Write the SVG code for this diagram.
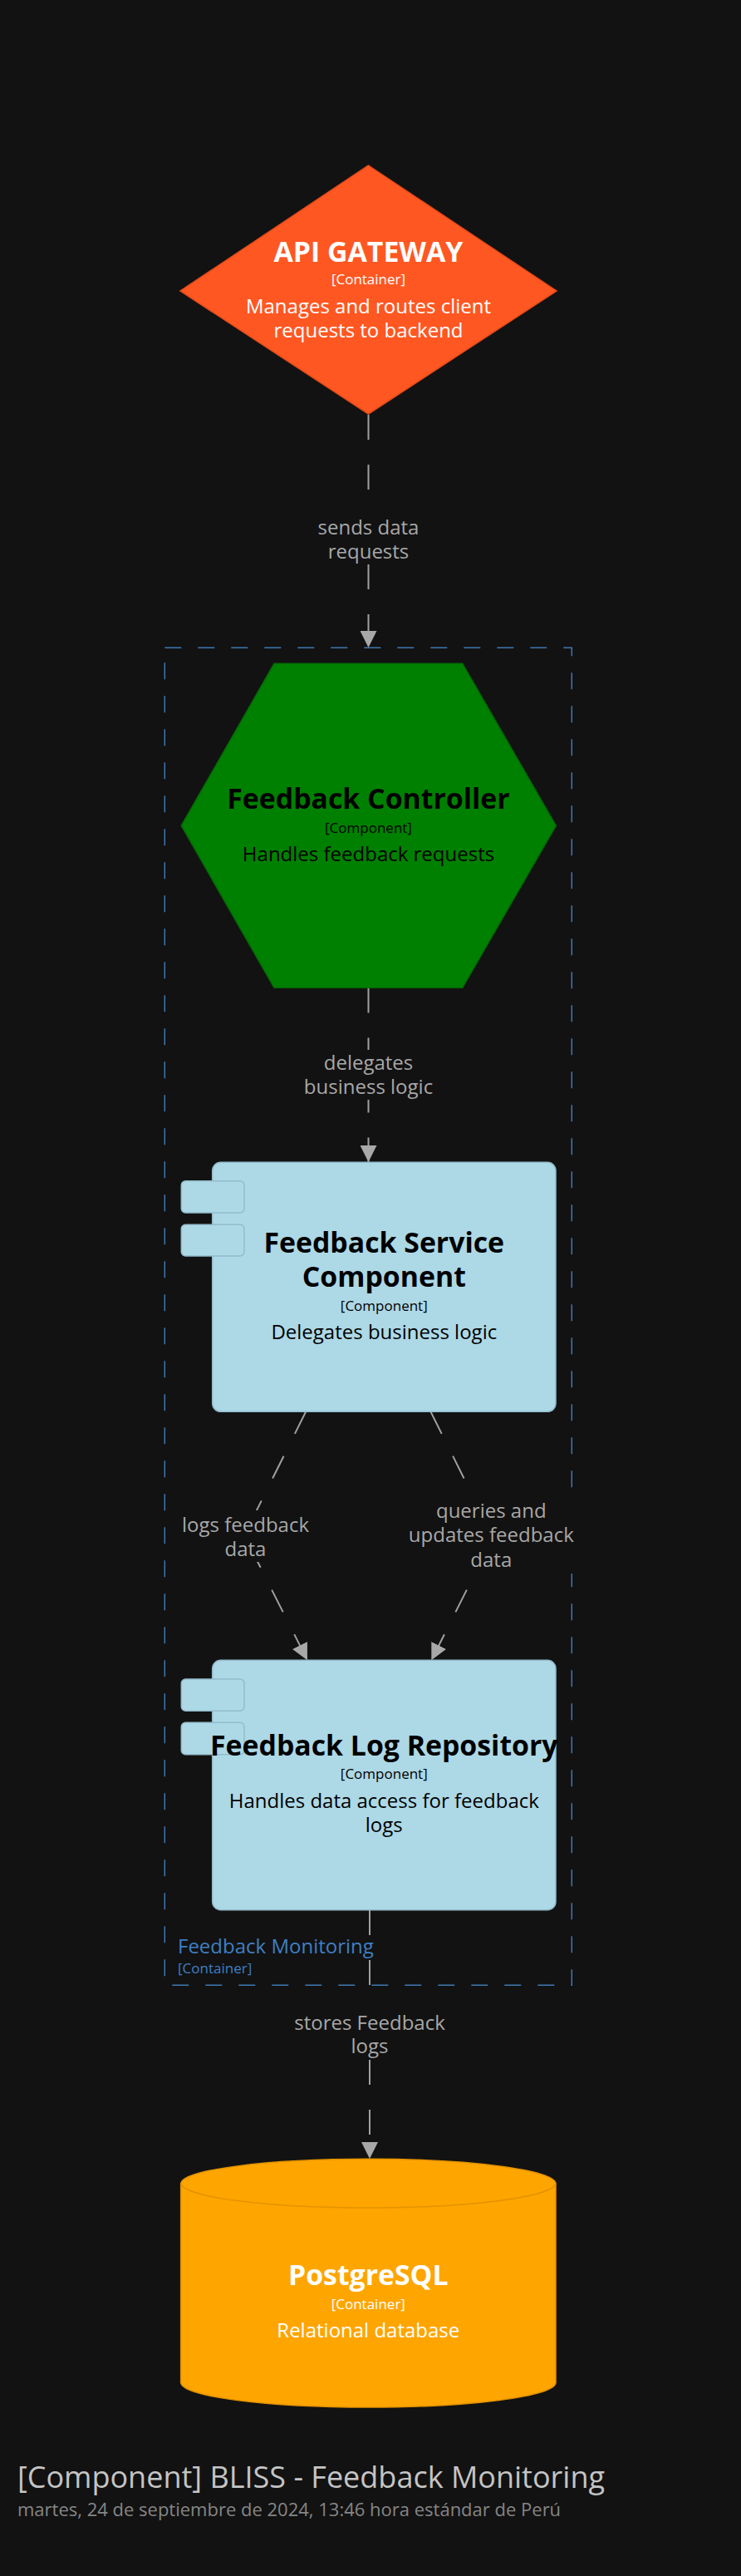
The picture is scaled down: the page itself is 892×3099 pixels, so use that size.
<svg xmlns="http://www.w3.org/2000/svg" width="892" height="3099" viewBox="0 0 892 3099">
<defs>
<style>
text{font-family:"Open Sans","Noto Sans","DejaVu Sans",sans-serif;text-anchor:middle}
.t{font-weight:bold;font-size:33.8px}
.s{font-size:17px}
.d{font-size:24px}
.w{fill:#ffffff}
.k{fill:#000000}
.lbl{font-size:24px;fill:#a8a8a8}
.edge{fill:none;stroke:#a0a0a0;stroke-width:2;stroke-dasharray:30 30}
.lbg{fill:#121212}
.comp{fill:#add8e6;stroke:#93bccb;stroke-width:1.5}
</style>
<marker id="arr" viewBox="0 0 20 20" refX="20" refY="10" markerWidth="20" markerHeight="20" markerUnits="userSpaceOnUse" orient="auto">
<path d="M0,0 L20,10 L0,20 Z" fill="#a8a8a8"/>
</marker>
</defs>
<rect x="0" y="0" width="892" height="3099" fill="#121212"/>

<g id="boundary-feedback-monitoring">
<rect x="198.3" y="779.3" width="490" height="1609" fill="none" stroke="#3f78b0" stroke-width="1.5" stroke-dasharray="20 20"/>
<text x="214" y="2350" style="text-anchor:start;font-size:24px;fill:#3f7fc4">Feedback Monitoring</text>
<text x="214" y="2374" style="text-anchor:start;font-size:17px;fill:#3f7fc4">[Container]</text>
</g>

<g id="connectors">
<path class="edge" d="M443.5,499 L443.5,779" marker-end="url(#arr)"/>
<path class="edge" d="M443.5,1188.5 L443.5,1398" marker-end="url(#arr)"/>
<path class="edge" d="M368.3,1698 L294,1847 L370,1997.3" marker-end="url(#arr)"/>
<path class="edge" d="M518.3,1698 L593.8,1849 L519.3,1997.3" marker-end="url(#arr)"/>
<path class="edge" d="M445,2298 L445,2597" marker-end="url(#arr)"/>
<rect class="lbg" x="380" y="619" width="128" height="60"/>
<text class="lbl" x="443.5" y="643.3">sends data</text>
<text class="lbl" x="443.5" y="671.7">requests</text>
<rect class="lbg" x="365" y="1263" width="160" height="60"/>
<text class="lbl" x="443.5" y="1287">delegates</text>
<text class="lbl" x="443.5" y="1316">business logic</text>
<rect class="lbg" x="217" y="1817" width="158" height="62"/>
<text class="lbl" x="295.5" y="1843.3">logs feedback</text>
<text class="lbl" x="295.5" y="1871.7">data</text>
<rect class="lbg" x="491" y="1801" width="202" height="92"/>
<text class="lbl" x="591.3" y="1826">queries and</text>
<text class="lbl" x="591.3" y="1855">updates feedback</text>
<text class="lbl" x="591.3" y="1885">data</text>
<rect class="lbg" x="353" y="2417" width="184" height="61"/>
<text class="lbl" x="445" y="2441.7">stores Feedback</text>
<text class="lbl" x="445" y="2470">logs</text>
</g>

<g id="api-gateway">
<polygon points="443.5,199 670,350 443.5,498 217,350" fill="#ff5722" stroke="#e54b1a" stroke-width="1.5"/>
<text class="t w" x="443.5" y="315">API GATEWAY</text>
<text class="s w" x="443.5" y="341.7">[Container]</text>
<text class="d w" x="443.5" y="376.7">Manages and routes client</text>
<text class="d w" x="443.5" y="406">requests to backend</text>
</g>

<g id="feedback-controller">
<polygon points="330,798.3 556.7,798.3 669.3,993.3 556.7,1188.3 330,1188.3 218.3,993.3" fill="#008000" stroke="#036b03" stroke-width="1.5"/>
<text class="t k" x="443.5" y="972.7">Feedback Controller</text>
<text class="s k" x="443.5" y="1001.7">[Component]</text>
<text class="d k" x="443.5" y="1036">Handles feedback requests</text>
</g>

<g id="feedback-service-component">
<rect class="comp" x="255.7" y="1398.3" width="413.3" height="300" rx="10"/>
<rect class="comp" x="218.3" y="1420.7" width="75.7" height="38.3" rx="5"/>
<rect class="comp" x="218.3" y="1473.3" width="75.7" height="37.7" rx="5"/>
<text class="t k" x="462.3" y="1506.7">Feedback Service</text>
<text class="t k" x="462.3" y="1547.7">Component</text>
<text class="s k" x="462.3" y="1576.7">[Component]</text>
<text class="d k" x="462.3" y="1611">Delegates business logic</text>
</g>

<g id="feedback-log-repository">
<rect class="comp" x="255.7" y="1997.3" width="413.3" height="300.4" rx="10"/>
<rect class="comp" x="218.3" y="2020" width="75.7" height="38.3" rx="5"/>
<rect class="comp" x="218.3" y="2072.3" width="75.7" height="38.4" rx="5"/>
<text class="t k" x="462.3" y="2111.7">Feedback Log Repository</text>
<text class="s k" x="462.3" y="2140">[Component]</text>
<text class="d k" x="462.3" y="2175">Handles data access for feedback</text>
<text class="d k" x="462.3" y="2204">logs</text>
</g>

<g id="postgresql">
<path d="M217.7,2626.7 A225.7,30 0 0 1 669,2626.7 L669,2866.7 A225.7,30 0 0 1 217.7,2866.7 Z" fill="#ffa500" stroke="#e39300" stroke-width="1.5"/>
<path d="M217.7,2626.7 A225.7,30 0 0 0 669,2626.7" fill="none" stroke="#e39300" stroke-width="1.5"/>
<text class="t w" x="443.3" y="2749">PostgreSQL</text>
<text class="s w" x="443.3" y="2777.7">[Container]</text>
<text class="d w" x="443.3" y="2811.7">Relational database</text>
</g>

<g id="footer">
<text x="21" y="2993" style="text-anchor:start;font-size:36px;fill:#c4c4c4">[Component] BLISS - Feedback Monitoring</text>
<text x="21" y="3027" style="text-anchor:start;font-size:22px;fill:#858585">martes, 24 de septiembre de 2024, 13:46 hora estándar de Perú</text>
</g>
</svg>
